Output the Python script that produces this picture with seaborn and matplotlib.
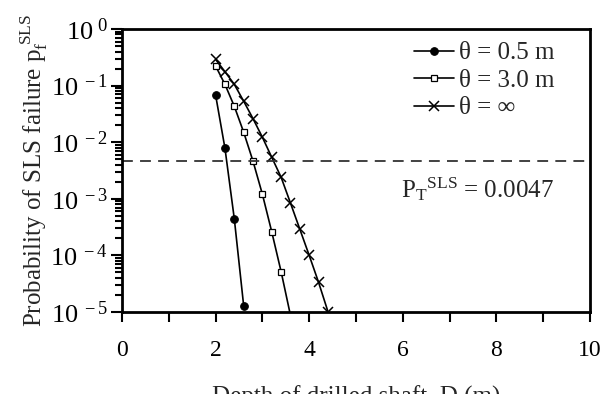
import matplotlib
matplotlib.use('Agg')
import matplotlib.pyplot as plt
import matplotlib.ticker as mticker
import numpy as np
import pandas as pd
import seaborn as sns

# Depth of drilled shaft D (m) and probability of SLS failure
depth_05 = [2.0, 2.2, 2.4, 2.6]
pf_05 = [0.068, 0.0078, 4.4e-4, 1.28e-5]

depth_30 = [2.0, 2.2, 2.4, 2.6, 2.8, 3.0, 3.2, 3.4, 3.6]
pf_30 = [0.222, 0.105, 0.043, 0.015, 0.0046, 0.0012, 2.6e-4, 5.15e-5, 8.7e-6]

depth_inf = [2.0, 2.2, 2.4, 2.6, 2.8, 3.0, 3.2, 3.4, 3.6, 3.8, 4.0, 4.2, 4.4]
pf_inf = [0.29, 0.176, 0.105, 0.053, 0.026, 0.0122, 0.0054, 0.0024,
          8.4e-4, 2.9e-4, 1.0e-4, 3.35e-5, 1.02e-5]

labels = ['θ = 0.5 m', 'θ = 3.0 m', 'θ = ∞']
pt_sls = 0.0047

sns.set_style('ticks')
plt.rcParams['font.family'] = ['Liberation Serif', 'DejaVu Serif']
plt.rcParams['mathtext.fontset'] = 'custom'
plt.rcParams['mathtext.rm'] = 'Liberation Serif'
plt.rcParams['mathtext.it'] = 'Liberation Serif:italic'
plt.rcParams['mathtext.cal'] = 'Liberation Serif'

fig = plt.figure(figsize=(6.11, 3.94), dpi=100)
ax = fig.add_axes([0.1997, 0.2081, 0.7659, 0.7183])

series = [
    (depth_05, pf_05, 'o', dict(markersize=5.5, markerfacecolor='black')),
    (depth_30, pf_30, 's', dict(markersize=5, markerfacecolor='white', markeredgewidth=0.9)),
    (depth_inf, pf_inf, 'x', dict(markersize=7, markeredgewidth=1.1)),
]
for (xs, ys, mk, kw), lab in zip(series, labels):
    df = pd.DataFrame({'D': xs, 'pf': ys})
    sns.lineplot(data=df, x='D', y='pf', ax=ax, color='black', linewidth=1.2,
                 marker=mk, markeredgecolor='black', label=lab, **kw)

ax.axhline(pt_sls, color='#333333', linestyle=(0, (6, 4)), linewidth=1.3)
ax.text(0.76, 0.435, r'${\mathrm{P}_{\mathrm{T}}}^{\mathrm{SLS}}$ = 0.0047',
        transform=ax.transAxes, ha='center', va='center', fontsize=18)

ax.set_yscale('log')
ax.set_xlim(0, 10)
ax.set_ylim(1e-5, 1)
ax.xaxis.set_major_locator(mticker.MultipleLocator(2))
ax.xaxis.set_minor_locator(mticker.MultipleLocator(1))
ax.yaxis.set_major_locator(mticker.LogLocator(base=10, numticks=10))
ax.yaxis.set_minor_locator(mticker.LogLocator(base=10, subs=np.arange(2, 10), numticks=20))
ax.yaxis.set_minor_formatter(mticker.NullFormatter())
ax.yaxis.set_major_formatter(mticker.FuncFormatter(
    lambda v, p: r'$\mathregular{10^{\ %d}}$' % round(np.log10(v))))

ax.tick_params(axis='both', which='both', direction='out', width=1.5,
               top=False, right=False, colors='black')
ax.tick_params(axis='x', which='both', length=7, pad=13, labelsize=17)
ax.tick_params(axis='y', which='major', length=8, pad=2, labelsize=19)
ax.tick_params(axis='y', which='minor', length=5)

for s in ax.spines.values():
    s.set_visible(True)
    s.set_linewidth(2)
    s.set_color('black')

ax.set_xlabel('Depth of drilled shaft, D (m)', fontsize=18, labelpad=18)
ax.set_ylabel(r'Probability of SLS failure p$_{\mathrm{f}}^{\ \mathrm{SLS}}$',
              fontsize=18, labelpad=0)
ax.grid(False)

leg = ax.legend(loc='upper right', frameon=False, fontsize=18, handlelength=1.6,
                handletextpad=0.2, labelspacing=0.2, borderaxespad=0.0,
                bbox_to_anchor=(0.945, 0.99))

fig.savefig('out.png', dpi=100)
